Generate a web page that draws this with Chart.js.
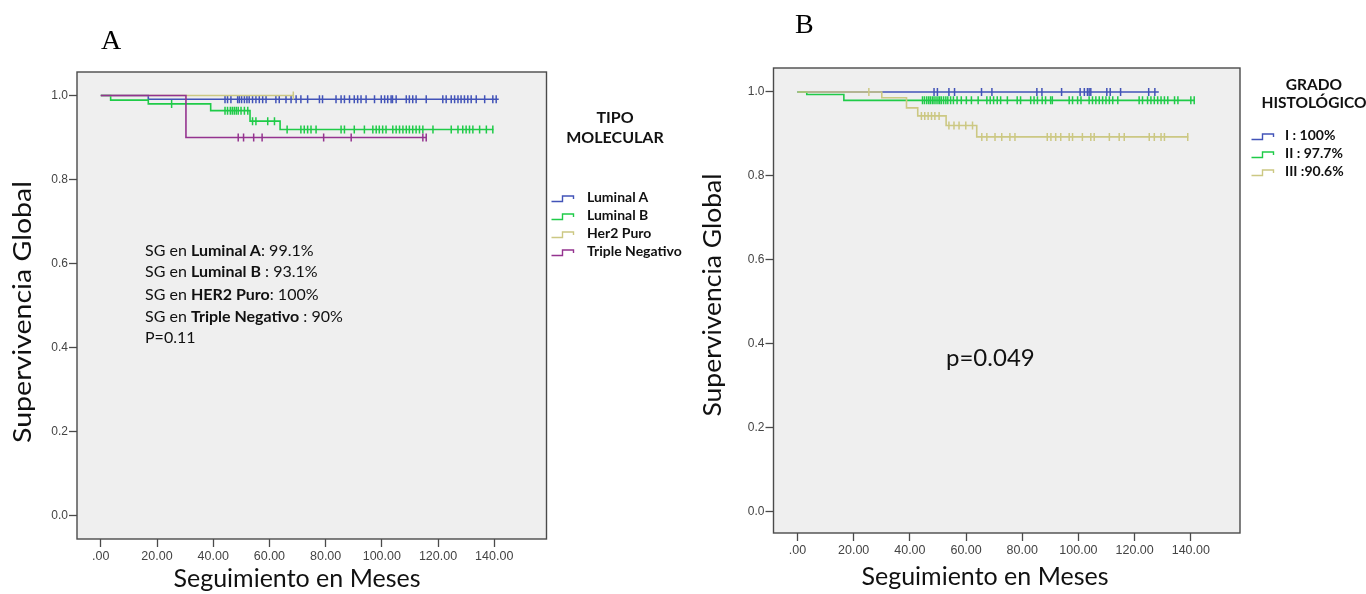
<!DOCTYPE html>
<html><head><meta charset="utf-8">
<script src="https://cdn.jsdelivr.net/npm/chart.js@4/dist/chart.umd.min.js"></script>
<style>
html,body{margin:0;padding:0;background:#fff;width:1366px;height:594px;overflow:hidden;}
body{position:relative;font-family:Lato,"DejaVu Sans",sans-serif;}
.cw{position:absolute;top:0;width:683px;height:594px;}
.t{position:absolute;white-space:nowrap;color:#111;line-height:1;}
.b{font-weight:bold;}
svg.ic{position:absolute;overflow:visible;}
</style></head><body>
<div class="cw" style="left:0"><canvas id="cA"></canvas></div>
<div class="cw" style="left:683px"><canvas id="cB"></canvas></div>

<div class="t" style="left:101px;top:26px;font-family:'Liberation Serif',serif;font-size:28px;color:#000">A</div>
<div class="t" style="left:795px;top:10px;font-family:'Liberation Serif',serif;font-size:28px;color:#000">B</div>

<div class="t b" style="left:560px;width:110px;text-align:center;top:109px;font-size:16px">TIPO</div>
<div class="t b" style="left:560px;width:110px;text-align:center;top:129px;font-size:16px">MOLECULAR</div>
<div id="legA"></div>

<div class="t" style="left:145px;top:242px;font-size:16px">SG en <b>Luminal A</b>: 99.1%</div>
<div class="t" style="left:145px;top:263px;font-size:16px">SG en <b>Luminal B</b> : 93.1%</div>
<div class="t" style="left:145px;top:286px;font-size:16px">SG en <b>HER2 Puro</b>: 100%</div>
<div class="t" style="left:145px;top:308px;font-size:16px">SG en <b>Triple Negativo</b> : 90%</div>
<div class="t" style="left:145px;top:329px;font-size:16px">P=0.11</div>

<div class="t" style="left:946px;top:345px;font-size:24px">p=0.049</div>

<div class="t b" style="left:1259px;width:110px;text-align:center;top:77px;font-size:15.5px">GRADO</div>
<div class="t b" style="left:1259px;width:110px;text-align:center;top:95px;font-size:15.5px">HISTOLÓGICO</div>
<div id="legB"></div>

<script>
// ---------- shared axis ticks ----------
const xTicks = [0, 20, 40, 60, 80, 100, 120, 140];
const xTickLabels = ['.00', '20.00', '40.00', '60.00', '80.00', '100.00', '120.00', '140.00'];
const yTicks = [0, 0.2, 0.4, 0.6, 0.8, 1.0];
const yTickLabels = ['0.0', '0.2', '0.4', '0.6', '0.8', '1.0'];
const xTitle = 'Seguimiento en Meses';
const yTitle = 'Supervivencia Global';

// ---------- Panel A: Tipo molecular ----------
const seriesA = ['Luminal A', 'Luminal B', 'Her2 Puro', 'Triple Negativo'];
const lumA_steps = [[0, 1], [16.9, 0.991], [141.6, 0.991]];
const lumA_cens = [44.2, 45.1, 46.3, 48.7, 49.3, 50.1, 51.1, 52.0, 52.8, 54.0, 55.2, 56.4, 57.6, 58.8, 62.3, 63.5, 65.9, 67.7, 69.5, 71.2, 73.6, 77.8, 78.9, 83.7, 85.5, 86.7, 88.5, 90.2, 91.4, 92.6, 94.4, 97.4, 99.8, 101.0, 102.1, 103.3, 103.8, 105.1, 108.7, 109.8, 111.0, 112.2, 115.8, 121.7, 122.9, 124.7, 125.9, 127.1, 128.2, 129.4, 130.6, 131.8, 133.6, 136.6, 139.5, 140.7];
const lumB_steps = [[0, 1], [3.5, 0.989], [16.9, 0.98], [39.1, 0.964], [53.1, 0.939], [63.8, 0.919], [139.7, 0.919]];
const lumB_cens = [25.2, 44.2, 45.1, 46.1, 46.8, 47.5, 48.2, 48.9, 49.9, 51.1, 52.3, 54.0, 55.2, 59.4, 61.8, 66.3, 71.2, 72.4, 73.6, 74.8, 76.6, 85.5, 86.7, 90.2, 93.8, 96.8, 98.0, 99.1, 100.3, 101.5, 103.9, 105.1, 106.3, 107.5, 108.7, 109.8, 111.0, 112.2, 113.4, 114.6, 118.2, 124.7, 127.1, 128.8, 130.0, 131.2, 132.4, 134.8, 137.2, 139.5];
const her2_steps = [[0, 1], [68.5, 1]];
const her2_cens = [68.5];
const tn_steps = [[0, 1], [30.3, 0.90], [115.8, 0.90]];
const tn_cens = [48.9, 50.8, 54.4, 57.4, 79.3, 89.1, 114.6, 115.8];

// ---------- Panel B: Grado histologico ----------
const seriesB = ['I : 100%', 'II : 97.7%', 'III :90.6%'];
const g1_steps = [[0, 1], [128.6, 1]];
const g1_cens = [48.6, 49.8, 53.9, 55.9, 65.5, 69.2, 85.2, 87.0, 94.0, 100.6, 102.1, 103.2, 103.8, 104.4, 110.1, 111.3, 115.0, 125.0, 127.2];
const g2_steps = [[0, 1], [3.3, 0.994], [16.5, 0.98], [141.2, 0.98]];
const g2_cens = [44.5, 45.2, 46.0, 46.7, 47.3, 48.0, 48.6, 49.3, 50.0, 50.6, 51.2, 52.0, 52.8, 53.5, 54.5, 55.5, 56.8, 58.3, 60.1, 61.9, 64.3, 67.4, 68.6, 69.8, 71.1, 72.3, 74.7, 78.2, 79.4, 83.0, 84.2, 85.4, 87.1, 88.3, 90.1, 90.7, 96.7, 97.9, 99.7, 100.9, 103.8, 105.0, 106.2, 107.4, 108.6, 109.8, 111.0, 112.2, 114.0, 121.6, 122.8, 124.6, 125.8, 127.0, 128.2, 129.4, 130.6, 131.8, 134.2, 135.4, 140.0, 141.2];
const g3_steps = [[0, 1], [30.0, 0.986], [38.8, 0.962], [42.8, 0.943], [52.9, 0.92], [63.8, 0.893], [139.1, 0.893]];
const g3_cens = [25.4, 44.1, 45.3, 46.5, 47.7, 48.9, 50.4, 53.9, 55.7, 57.5, 59.9, 62.3, 65.6, 67.4, 70.3, 72.7, 75.6, 77.4, 88.9, 90.2, 91.9, 93.7, 96.7, 97.9, 101.4, 104.4, 105.6, 111.0, 114.5, 116.3, 125.2, 127.0, 129.4, 130.6, 138.9];

// ---------- colours ----------
const BLUE = '#4253b8', GREEN = '#1fcb48', KHAKI = '#ccc883', PURPLE = '#94338f';

function survAt(steps, t) {
  let s = steps[0][1];
  for (const [tt, v] of steps) { if (tt <= t) s = v; else break; }
  return s;
}
function curve(steps, color, order) {
  return { data: steps.map(([x, y]) => ({ x, y })), showLine: true, stepped: 'before',
    borderColor: color, borderWidth: 1.6, pointRadius: 0, fill: false, order };
}
function cens(times, steps, color, order) {
  return { data: times.map(t => ({ x: t, y: survAt(steps, t) })), showLine: false,
    pointStyle: 'line', rotation: 90, pointRadius: 4, pointBorderWidth: 1.5,
    pointBorderColor: color, borderColor: color, backgroundColor: color, order };
}

const framePlugin = {
  id: 'frame',
  beforeDraw(chart) {
    const { ctx, chartArea: a } = chart;
    ctx.save(); ctx.fillStyle = '#efefef';
    ctx.fillRect(a.left, a.top, a.right - a.left, a.bottom - a.top); ctx.restore();
  },
  afterDraw(chart) {
    const { ctx, chartArea: a } = chart;
    const o = chart.options.plugins.frame;
    ctx.save();
    ctx.strokeStyle = '#4a4a4a'; ctx.lineWidth = 1.4;
    ctx.strokeRect(a.left, a.top, a.right - a.left, a.bottom - a.top);
    ctx.fillStyle = '#111'; ctx.font = '25px Lato'; ctx.textAlign = 'center'; ctx.textBaseline = 'alphabetic';
    ctx.fillText(xTitle, o.xt[0], o.xt[1]);
    ctx.translate(o.yt[0], o.yt[1]); ctx.rotate(-Math.PI / 2);
    const w = ctx.measureText(yTitle).width;
    ctx.scale(o.ylen / w, 1);
    ctx.fillText(yTitle, 0, 0);
    ctx.restore();
  }
};

function makeChart(id, datasets, cfg) {
  return new Chart(document.getElementById(id), {
    type: 'scatter',
    data: { datasets },
    options: {
      responsive: true, maintainAspectRatio: false, animation: false, devicePixelRatio: 1,
      layout: { padding: { left: 0, top: cfg.top, right: cfg.right, bottom: 0 } },
      plugins: { legend: { display: false }, tooltip: { enabled: false }, frame: { xt: cfg.xt, yt: cfg.yt, ylen: cfg.ylen } },
      scales: {
        x: {
          type: 'linear', min: cfg.xmin, max: cfg.xmax,
          afterBuildTicks: s => { s.ticks = xTicks.map(v => ({ value: v })); },
          afterFit: s => { s.height = cfg.xh; },
          grid: { drawOnChartArea: false, drawTicks: true, tickLength: 8, color: '#4a4a4a', tickWidth: 1.3 },
          border: { display: false },
          ticks: { autoSkip: false, maxRotation: 0, padding: 2, color: '#444',
            font: { family: 'Liberation Sans', size: 12.5 },
            callback: (v, i) => xTickLabels[i] }
        },
        y: {
          type: 'linear', min: cfg.ymin, max: cfg.ymax,
          afterBuildTicks: s => { s.ticks = yTicks.map(v => ({ value: v })); },
          afterFit: s => { s.width = cfg.yw; },
          grid: { drawOnChartArea: false, drawTicks: true, tickLength: 8, color: '#4a4a4a', tickWidth: 1.3 },
          border: { display: false },
          ticks: { autoSkip: false, padding: 1, color: '#444',
            font: { family: 'Liberation Sans', size: 12 },
            callback: (v, i) => yTickLabels[i] }
        }
      }
    },
    plugins: [framePlugin]
  });
}

makeChart('cA', [
  curve(lumA_steps, BLUE, 8), cens(lumA_cens, lumA_steps, BLUE, 7),
  curve(lumB_steps, GREEN, 6), cens(lumB_cens, lumB_steps, GREEN, 5),
  curve(her2_steps, KHAKI, 4), cens(her2_cens, her2_steps, KHAKI, 3),
  curve(tn_steps, PURPLE, 2), cens(tn_cens, tn_steps, PURPLE, 1)
], { top: 72, right: 136.5, yw: 77, xh: 55, xmin: -8.47, xmax: 158.6, ymin: -0.0547, ymax: 1.0559,
     xt: [297, 587], yt: [31, 312], ylen: 262 });

makeChart('cB', [
  curve(g1_steps, BLUE, 6), cens(g1_cens, g1_steps, BLUE, 5),
  curve(g2_steps, GREEN, 4), cens(g2_cens, g2_steps, GREEN, 3),
  curve(g3_steps, KHAKI, 2), cens(g3_cens, g3_steps, KHAKI, 1)
], { top: 68, right: 126, yw: 90.5, xh: 61, xmin: -8.54, xmax: 157.5, ymin: -0.05, ymax: 1.057,
     xt: [985 - 683, 585], yt: [721 - 683, 295], ylen: 243 });

// ---------- legends (HTML) ----------
function legend(el, names, colors, iconX, textX, baselines, size) {
  let h = '';
  names.forEach((n, i) => {
    const b = baselines[i];
    h += `<svg class="ic" style="left:${iconX}px;top:${b - 7}px" width="24" height="9"><path d="M0.5 6.5 H11.5 V1 H22.5 V4" fill="none" stroke="${colors[i]}" stroke-width="1.4"/></svg>`;
    h += `<div class="t b" style="left:${textX}px;top:${(b - 0.887 * size).toFixed(1)}px;font-size:${size}px">${n}</div>`;
  });
  document.getElementById(el).innerHTML = h;
}
legend('legA', seriesA, [BLUE, GREEN, KHAKI, PURPLE], 551, 587, [202, 220, 238, 256], 14);
legend('legB', seriesB, [BLUE, GREEN, KHAKI], 1251, 1285, [140, 158, 176], 14);
</script>
</body></html>
